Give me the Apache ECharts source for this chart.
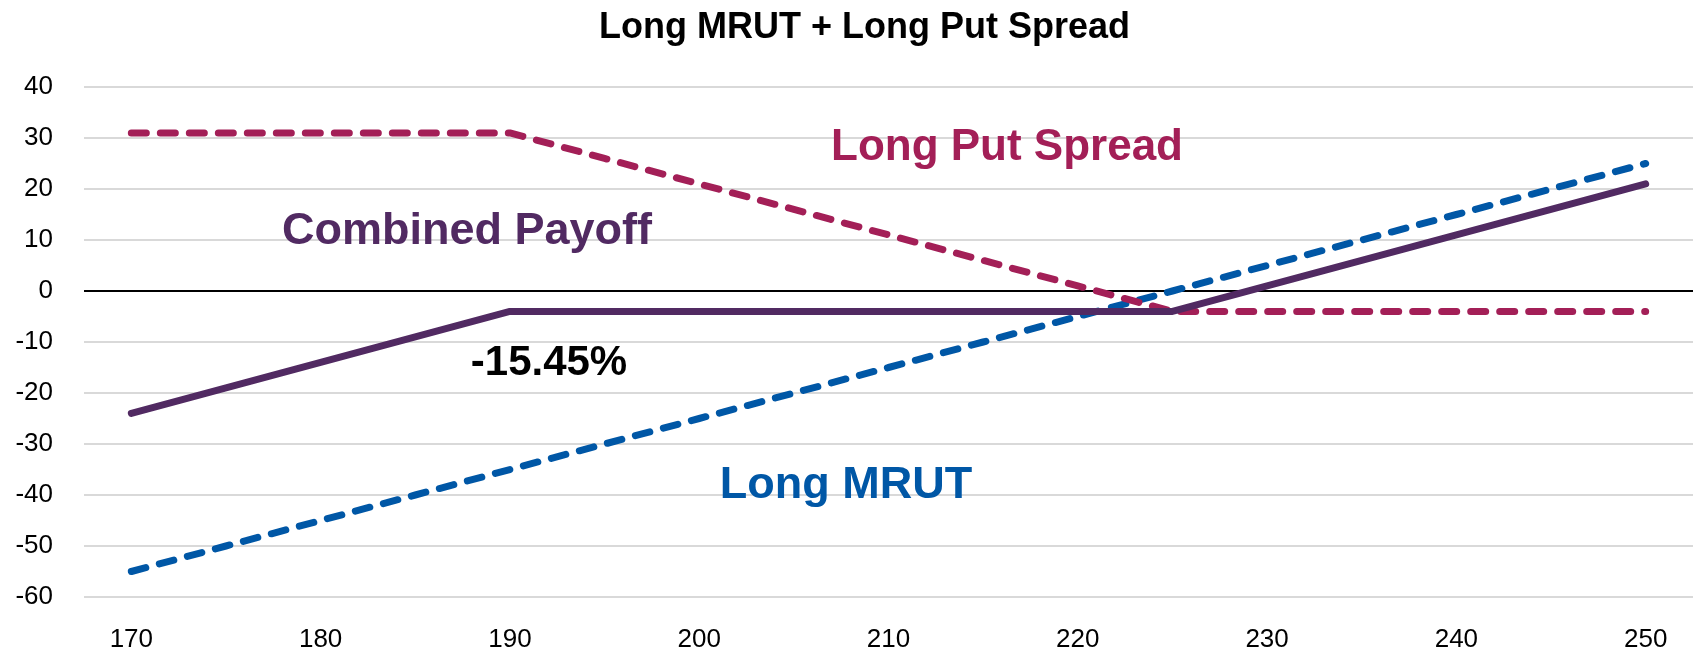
<!DOCTYPE html>
<html>
<head>
<meta charset="utf-8">
<script src="https://cdn.jsdelivr.net/npm/echarts@6/dist/echarts.min.js"></script>
<style>
  html, body { margin: 0; padding: 0; background: #fff; }
  #chart { width: 1693px; height: 653px; }
</style>
</head>
<body>
<div id="chart"></div>
<script>
const strikes = ["170", "175", "180", "185", "190", "195", "200", "205", "210", "215", "220", "225", "230", "235", "240", "245", "250"];
const longMrut = [-55, -50, -45, -40, -35, -30, -25, -20, -15, -10, -5, 0, 5, 10, 15, 20, 25];
const longPutSpread = [31, 31, 31, 31, 31, 26, 21, 16, 11, 6, 1, -4, -4, -4, -4, -4, -4];
const combinedPayoff = [-24, -19, -14, -9, -4, -4, -4, -4, -4, -4, -4, -4, 1, 6, 11, 16, 21];
const yTicks = [-60, -50, -40, -30, -20, -10, 0, 10, 20, 30, 40];

const font = "'Liberation Sans', 'DejaVu Sans', sans-serif";
const colors = { mrut: "#0057a6", put: "#a31f57", combined: "#512a62" };

const chart = echarts.init(document.querySelector("#chart"));

function dashed(name, data, color) {
  return {
    name,
    type: "line",
    data,
    symbol: "none",
    silent: true,
    lineStyle: { color, width: 7, type: [15, 14], cap: "round" },
  };
}

function note(text, x, y, color, size) {
  return {
    type: "text",
    x,
    y,
    z: 100,
    style: { text, fill: color, font: `bold ${size}px ${font}`, align: "center", verticalAlign: "middle" },
  };
}

chart.setOption({
  animation: false,
  title: {
    text: "Long MRUT + Long Put Spread",
    left: 594,
    top: 5,
    textStyle: { fontFamily: font, fontWeight: "bold", fontSize: 36, color: "#000" },
  },
  grid: { left: 84, right: 0, top: 87, bottom: 55 },
  xAxis: {
    type: "category",
    data: strikes,
    boundaryGap: true,
    axisLine: { show: false },
    axisTick: { show: false },
    axisLabel: { interval: 1, fontFamily: font, fontSize: 26, color: "#000", margin: 30 },
  },
  yAxis: {
    type: "value",
    min: yTicks[0],
    max: yTicks[yTicks.length - 1],
    interval: 10,
    axisLine: { show: false },
    axisTick: { show: false },
    axisLabel: { fontFamily: font, fontSize: 26, color: "#000", margin: 31 },
    splitLine: {
      lineStyle: {
        width: 2,
        color: yTicks.map((v) => (v === 0 ? "#000" : "#d9d9d9")),
      },
    },
  },
  series: [
    dashed("Long MRUT", longMrut, colors.mrut),
    dashed("Long Put Spread", longPutSpread, colors.put),
    {
      name: "Combined Payoff",
      type: "line",
      data: combinedPayoff,
      symbol: "none",
      silent: true,
      lineStyle: { color: colors.combined, width: 7, cap: "round", join: "round" },
    },
  ],
  graphic: [
    note("Long Put Spread", 1007, 148, colors.put, 44),
    note("Combined Payoff", 467, 232, colors.combined, 45),
    note("-15.45%", 549, 363, "#000", 42),
    note("Long MRUT", 846, 486, colors.mrut, 45),
  ],
});

window.addEventListener("resize", () => chart.resize());
</script>
</body>
</html>
